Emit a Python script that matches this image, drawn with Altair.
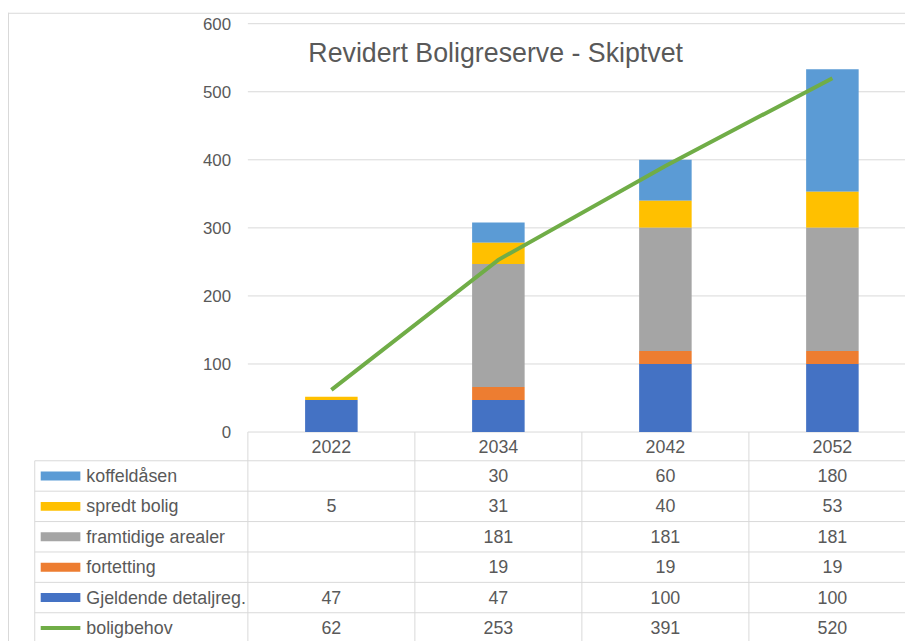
import altair as alt
import pandas as pd

# ---- data ----
years = ["2022", "2034", "2042", "2052"]
series_names = ["koffeldåsen", "spredt bolig", "framtidige arealer",
                "fortetting", "Gjeldende detaljreg.", "boligbehov"]
koffeldasen = [None, 30, 60, 180]
spredt_bolig = [5, 31, 40, 53]
framtidige_arealer = [None, 181, 181, 181]
fortetting = [None, 19, 19, 19]
gjeldende_detaljreg = [47, 47, 100, 100]
boligbehov = [62, 253, 391, 520]
series_colors = ["#5B9BD5", "#FFC000", "#A5A5A5", "#ED7D31", "#4472C4", "#70AD47"]
y_ticks = [0, 100, 200, 300, 400, 500, 600]
title_text = "Revidert Boligreserve - Skiptvet"

FONT = "Liberation Sans, Arial, sans-serif"
TXT = "#595959"
GRID = "#d9d9d9"

series_values = [koffeldasen, spredt_bolig, framtidige_arealer,
                 fortetting, gjeldende_detaljreg, boligbehov]
rows = []
for i, (name, vals) in enumerate(zip(series_names, series_values)):
    for y, v in zip(years, vals):
        if v is not None:
            rows.append({"series": name, "year": y, "value": v,
                         "stack_order": len(series_names) - 2 - i})
df = pd.DataFrame(rows)
bars_df = df[df["series"] != "boligbehov"]
line_df = df[df["series"] == "boligbehov"]
ticks_df = pd.DataFrame({"tick": y_ticks})
years_df = pd.DataFrame({"year": years})
series_df = pd.DataFrame({"series": series_names,
                          "sw": [9, 9, 9, 9, 9, 4]})
one = pd.DataFrame({"t": [title_text]})

W, H = 905, 633
xs = alt.Scale(type="band", domain=years, range=[242, 916],
               paddingInner=0, paddingOuter=0)
ys = alt.Scale(domain=[0, 600], range=[425, 13], nice=False, zero=True)
yt = alt.Scale(type="band", domain=series_names, range=[454, 638],
               paddingInner=0, paddingOuter=0)
cs = alt.Scale(domain=series_names, range=series_colors)

grid = alt.Chart(ticks_df).mark_rule(color=GRID, strokeWidth=1).encode(
    y=alt.Y("tick:Q", scale=ys, axis=None),
    x=alt.value(242), x2=alt.value(W + 10))

tick_labels = alt.Chart(ticks_df).mark_text(
    align="right", baseline="middle", fontSize=17, color=TXT, font=FONT, dy=1
).encode(y=alt.Y("tick:Q", scale=ys, axis=None), x=alt.value(225),
         text="tick:Q")

bars = alt.Chart(bars_df).mark_bar(size=53).encode(
    x=alt.X("year:N", scale=xs, axis=None),
    y=alt.Y("value:Q", stack="zero", scale=ys, axis=None),
    color=alt.Color("series:N", scale=cs, legend=None),
    order=alt.Order("stack_order:Q", sort="ascending"))

line = alt.Chart(line_df).mark_line(color="#70AD47", strokeWidth=4).encode(
    x=alt.X("year:N", scale=xs, axis=None),
    y=alt.Y("value:Q", scale=ys, axis=None))

title = alt.Chart(one).mark_text(
    fontSize=27, color=TXT, font=FONT, align="center", baseline="alphabetic"
).encode(x=alt.value(492), y=alt.value(52), text="t:N")

# ---- data table ----
col_rules = alt.Chart(years_df).mark_rule(color=GRID, strokeWidth=1).encode(
    x=alt.X("year:N", scale=xs, axis=None, bandPosition=0),
    y=alt.value(425), y2=alt.value(H + 10))

row_rules = alt.Chart(series_df).mark_rule(color=GRID, strokeWidth=1).encode(
    y=alt.Y("series:N", scale=yt, axis=None, bandPosition=0),
    x=alt.value(27), x2=alt.value(W + 10))

left_border = alt.Chart(one).mark_rule(color=GRID, strokeWidth=1).encode(
    x=alt.value(27), y=alt.value(454), y2=alt.value(H + 10))

outer_left = alt.Chart(one).mark_rule(color=GRID, strokeWidth=1).encode(
    x=alt.value(0.5), y=alt.value(2), y2=alt.value(H + 10))
outer_top = alt.Chart(one).mark_rule(color=GRID, strokeWidth=1).encode(
    y=alt.value(2.5), x=alt.value(0), x2=alt.value(W + 10))

year_header = alt.Chart(years_df).mark_text(
    fontSize=18, color=TXT, font=FONT, baseline="middle", dy=2
).encode(x=alt.X("year:N", scale=xs, axis=None), y=alt.value(439),
         text="year:N")

swatches = alt.Chart(series_df).mark_rule().encode(
    y=alt.Y("series:N", scale=yt, axis=None, bandPosition=0.5),
    x=alt.value(33), x2=alt.value(73),
    color=alt.Color("series:N", scale=cs, legend=None),
    strokeWidth=alt.StrokeWidth("sw:Q", scale=None))

series_labels = alt.Chart(series_df).mark_text(
    align="left", baseline="middle", fontSize=18, color=TXT, font=FONT, dy=1
).encode(y=alt.Y("series:N", scale=yt, axis=None, bandPosition=0.5),
         x=alt.value(79), text="series:N")

cell_values = alt.Chart(df).mark_text(
    baseline="middle", fontSize=18, color=TXT, font=FONT, dy=1
).encode(x=alt.X("year:N", scale=xs, axis=None),
         y=alt.Y("series:N", scale=yt, axis=None, bandPosition=0.5),
         text="value:Q")

chart = alt.layer(
    outer_left, outer_top, grid, tick_labels, bars, line, title,
    col_rules, row_rules, left_border, year_header, swatches,
    series_labels, cell_values
).resolve_scale(y="independent").properties(
    width=W, height=H, padding=0,
    autosize=alt.AutoSizeParams(type="none"),
    background="white"
).configure_view(stroke=None)

chart.save("out.html", embed_options={"renderer": "svg", "actions": False})
